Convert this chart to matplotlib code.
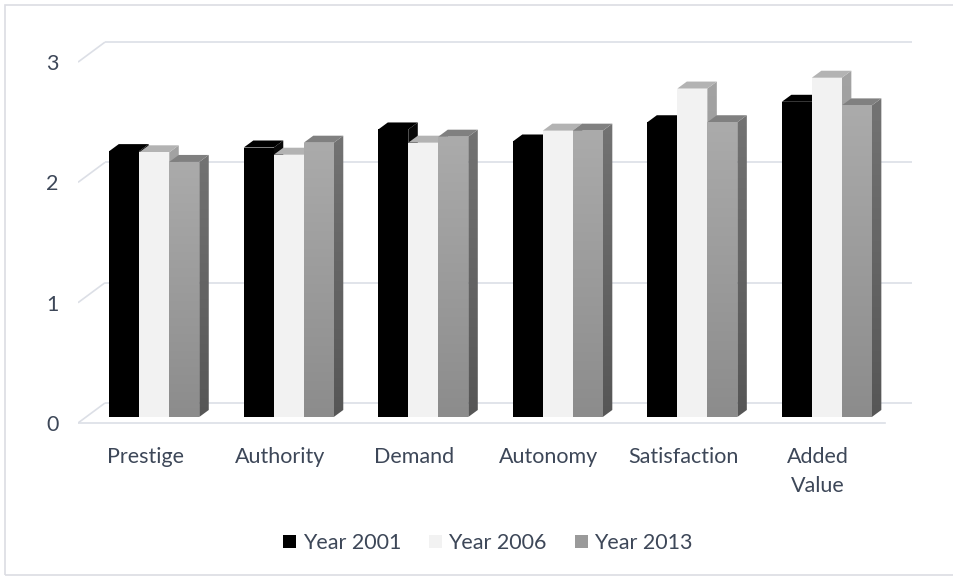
import matplotlib
matplotlib.use("Agg")
import matplotlib.pyplot as plt
import numpy as np
from matplotlib.patches import Polygon, Rectangle, Patch
from matplotlib.colors import LinearSegmentedColormap

# ---- data ----
categories = ["Prestige", "Authority", "Demand", "Autonomy", "Satisfaction", "Added\nValue"]
series_names = ["Year 2001", "Year 2006", "Year 2013"]
year_2001 = [2.21, 2.24, 2.39, 2.29, 2.45, 2.62]
year_2006 = [2.20, 2.18, 2.28, 2.38, 2.73, 2.82]
year_2013 = [2.12, 2.28, 2.33, 2.38, 2.45, 2.59]
y_ticks = [0, 1, 2, 3]

series = [year_2001, year_2006, year_2013]

# ---- styling ----
FONT = ["Lato", "DejaVu Sans"]
FSIZE = 15.5
TEXT_COLOR = "#3d4758"
GRID_COLOR = "#dcdfe6"
styles = [
    dict(front=("#000000", "#000000"), top="#000000", side=("#0a0a0a", "#000000")),
    dict(front=("#f2f2f2", "#f2f2f2"), top="#b3b3b3", side=("#a3a3a3", "#8c8c8c")),
    dict(front=("#ababab", "#8c8c8c"), top="#808080", side=("#737373", "#565656")),
]

W, H = 954, 579
fig = plt.figure(figsize=(W / 100, H / 100), dpi=100)

# pixel layout of the plot box (front plane)
px_left, px_right = 78, 912
px_bottom, px_top = 429, 32
ax = fig.add_axes([px_left / W, 1 - px_bottom / H,
                   (px_right - px_left) / W, (px_bottom - px_top) / H])
xlim = (-0.5, 5.7)
ylim = (-0.05, 3.25)

sx = (px_right - px_left) / (xlim[1] - xlim[0])   # px per category
sy = (px_bottom - px_top) / (ylim[1] - ylim[0])   # px per unit

# oblique depth offsets (data units)
floor_dx, floor_dy = 27 / sx, 20 / sy
bar_off_x, bar_off_y = 9 / sx, 6 / sy
bar_dx, bar_dy = 9.5 / sx, 7 / sy
bar_w = 30 / sx
group_w = bar_w * len(series)
n = len(categories)

# walls: side-wall diagonals and back-wall gridlines
for g in y_ticks:
    ax.plot([xlim[0], xlim[0] + floor_dx], [g, g + floor_dy],
            color=GRID_COLOR, lw=1.2, zorder=1, solid_capstyle="butt")
    ax.plot([xlim[0] + floor_dx, n - 0.5 + floor_dx], [g + floor_dy, g + floor_dy],
            color=GRID_COLOR, lw=1.2, zorder=1, solid_capstyle="butt")
# floor front edge
ax.plot([xlim[0], n - 0.5], [0, 0], color=GRID_COLOR, lw=1.2, zorder=1)


def gradient_fill(patch, c_top, c_bottom, z):
    ax.add_patch(patch)
    if c_top == c_bottom:
        patch.set_facecolor(c_top)
        return
    patch.set_facecolor("none")
    verts = np.asarray(patch.get_xy())
    x0, x1 = verts[:, 0].min(), verts[:, 0].max()
    y0, y1 = verts[:, 1].min(), verts[:, 1].max()
    cmap = LinearSegmentedColormap.from_list("g", [c_bottom, c_top])
    img = ax.imshow(np.linspace(0, 1, 256).reshape(-1, 1), cmap=cmap,
                    extent=(x0, x1, y0, y1), origin="lower",
                    aspect="auto", zorder=z, interpolation="bicubic")
    img.set_clip_path(patch)


z = 10
for i in range(n):
    for j, vals in enumerate(series):
        st = styles[j]
        v = vals[i]
        x0 = i - group_w / 2 + j * bar_w + bar_off_x
        x1 = x0 + bar_w
        y0 = bar_off_y
        y1 = bar_off_y + v
        side = Polygon([(x1, y0), (x1 + bar_dx, y0 + bar_dy),
                        (x1 + bar_dx, y1 + bar_dy), (x1, y1)],
                       closed=True, lw=0, zorder=z)
        gradient_fill(side, st["side"][0], st["side"][1], z)
        top = Polygon([(x0, y1), (x1, y1), (x1 + bar_dx, y1 + bar_dy),
                       (x0 + bar_dx, y1 + bar_dy)],
                      closed=True, lw=0, facecolor=st["top"], zorder=z + 1)
        ax.add_patch(top)
        front = Polygon([(x0, y0), (x1, y0), (x1, y1), (x0, y1)],
                        closed=True, lw=0, zorder=z + 2)
        gradient_fill(front, st["front"][0], st["front"][1], z + 2)
        z += 3

ax.set_xlim(*xlim)
ax.set_ylim(*ylim)
for s in ax.spines.values():
    s.set_visible(False)
ax.set_xticks([])
ax.set_yticks(y_ticks)
ax.set_yticklabels([str(t) for t in y_ticks], family=FONT, fontsize=FSIZE,
                   color=TEXT_COLOR)
ax.tick_params(axis="y", length=0, pad=14)
ax.set_facecolor("none")

# category labels below the floor
lbl_tr = ax.get_xaxis_transform()
for i, cat in enumerate(categories):
    ax.text(i, -0.045, cat, transform=lbl_tr, ha="center", va="top",
            family=FONT, fontsize=FSIZE, color=TEXT_COLOR, linespacing=1.55)

# legend
handles = [Patch(facecolor=c, edgecolor="none")
           for c in ["#000000", "#f2f2f2", "#9a9a9a"]]
fig.legend(handles, series_names, loc="center", ncol=3, frameon=False,
           bbox_to_anchor=(488 / W, 1 - 543 / H),
           prop=dict(family=FONT, size=FSIZE), labelcolor=TEXT_COLOR,
           handlelength=0.6, handleheight=0.6, handletextpad=0.3,
           columnspacing=1.3)

# chart area border
fig.patches.append(Rectangle((5 / W, 4 / H), (W + 5) / W, (H - 9) / H,
                             transform=fig.transFigure, fill=False,
                             edgecolor="#dcdde3", lw=1.2))

fig.savefig("out.png", dpi=100)
